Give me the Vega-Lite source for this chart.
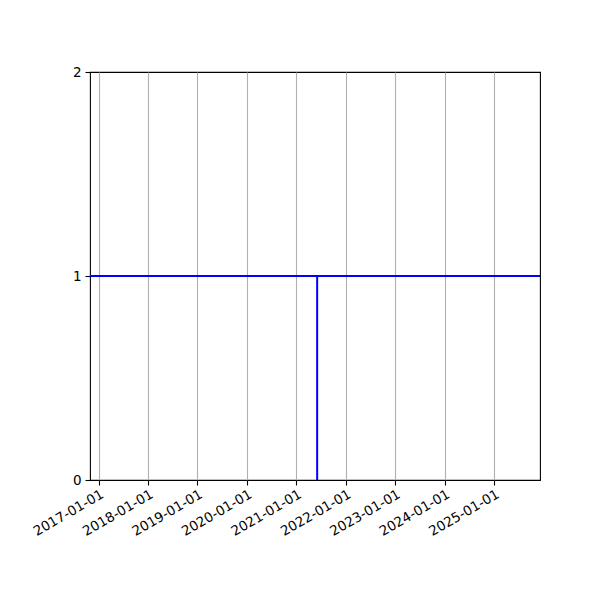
{
  "$schema": "https://vega.github.io/schema/vega-lite/v6.json",
  "width": 450,
  "height": 408,
  "autosize": "none",
  "padding": {"left": 90, "top": 72, "right": 60, "bottom": 120},
  "background": "white",
  "config": {
    "font": "DejaVu Sans",
    "view": {"stroke": "black", "strokeWidth": 1.1},
    "axis": {
      "domain": false,
      "tickColor": "black",
      "tickSize": 5,
      "tickWidth": 1.1,
      "labelColor": "black",
      "labelFontSize": 13.5,
      "labelFont": "DejaVu Sans",
      "title": null
    }
  },
  "layer": [
    {
      "data": {"values": [{"level": 1}]},
      "mark": {"type": "rule", "color": "#0000ff", "strokeWidth": 2},
      "encoding": {
        "y": {
          "field": "level",
          "type": "quantitative",
          "scale": {"domain": [0, 2], "nice": false, "zero": false},
          "axis": {"values": [0, 1, 2], "labelExpr": "format(datum.value, 'd')", "grid": false, "labelPadding": 4, "labelOverlap": false, "labelFlush": false}
        }
      }
    },
    {
      "data": {"values": [{"date": "2021-06-03", "low": 0, "high": 1}]},
      "mark": {"type": "rule", "color": "#0000ff", "strokeWidth": 2},
      "encoding": {
        "x": {
          "field": "date",
          "type": "temporal",
          "scale": {
            "type": "utc",
            "domain": [
              {"year": 2016, "month": 10, "date": 29, "utc": true},
              {"year": 2025, "month": 12, "date": 5, "utc": true}
            ],
            "nice": false
          },
          "axis": {
            "values": [
              {"year": 2017, "month": 1, "date": 1, "utc": true},
              {"year": 2018, "month": 1, "date": 1, "utc": true},
              {"year": 2019, "month": 1, "date": 1, "utc": true},
              {"year": 2020, "month": 1, "date": 1, "utc": true},
              {"year": 2021, "month": 1, "date": 1, "utc": true},
              {"year": 2022, "month": 1, "date": 1, "utc": true},
              {"year": 2023, "month": 1, "date": 1, "utc": true},
              {"year": 2024, "month": 1, "date": 1, "utc": true},
              {"year": 2025, "month": 1, "date": 1, "utc": true}
            ],
            "labelExpr": "utcFormat(datum.value, '%Y-%m-%d')",
            "labelAngle": -30,
            "labelAlign": "right",
            "labelBaseline": "top",
            "labelPadding": 2,
            "labelFlush": false,
            "labelOverlap": false,
            "grid": true,
            "gridColor": "#b0b0b0",
            "gridWidth": 1.1
          }
        },
        "y": {
          "field": "low",
          "type": "quantitative",
          "axis": {"values": [0, 1, 2], "labelExpr": "format(datum.value, 'd')", "grid": false, "labelPadding": 4, "labelOverlap": false, "labelFlush": false}
        },
        "y2": {"field": "high"}
      }
    }
  ]
}
